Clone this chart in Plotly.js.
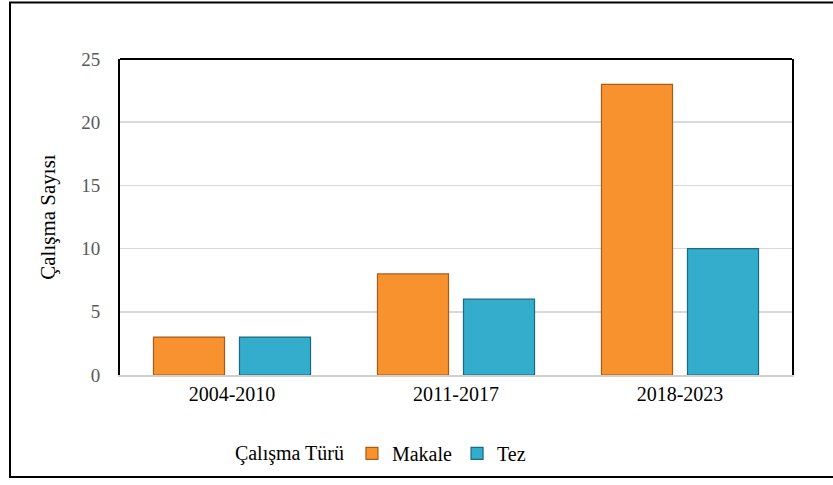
<!DOCTYPE html>
<html>
<head>
<meta charset="utf-8">
<script src="https://cdn.plot.ly/plotly-3.0.1.min.js"></script>
<style>
  html, body { margin: 0; padding: 0; background: #fff; }
  #chart { width: 833px; height: 485px; }
</style>
</head>
<body>
<div id="chart"></div>
<script>
const categories = ["2004-2010", "2011-2017", "2018-2023"];
const makale = [3, 8, 23];
const tez = [3, 6, 10];
const yTicks = [0, 5, 10, 15, 20, 25];

const font = "Liberation Serif";

const traces = [
  {
    type: "bar", name: "Makale", x: categories, y: makale,
    marker: { color: "#F7922F", line: { color: "#A85C18", width: 1.2 } },
    hoverinfo: "x+y"
  },
  {
    type: "bar", name: "Tez", x: categories, y: tez,
    marker: { color: "#33ADCB", line: { color: "#1A6A80", width: 1.2 } },
    hoverinfo: "x+y"
  }
];

const layout = {
  width: 833, height: 485,
  margin: { l: 120, r: 41, t: 59, b: 107 },
  paper_bgcolor: "#fff", plot_bgcolor: "#fff",
  barmode: "group", bargap: 0.232, bargroupgap: 0.174,
  font: { family: font, size: 20, color: "#000" },
  xaxis: {
    type: "category",
    tickfont: { family: font, size: 20, color: "#000" },
    showgrid: false, zeroline: false,
    showline: true, linecolor: "#D0D0D0", linewidth: 2,
    ticks: "", ticklen: 0
  },
  yaxis: {
    range: [0, 25], tickvals: yTicks, ticktext: yTicks.map(String),
    tickfont: { family: font, size: 19, color: "#595959" },
    showgrid: true, gridcolor: "#D9D9D9", gridwidth: 1.5,
    zeroline: false,
    showline: true, linecolor: "#000", linewidth: 2, mirror: true,
    ticks: "", ticklabelstandoff: 14,
    title: { text: "Çalışma Sayısı", font: { family: font, size: 21, color: "#000" }, standoff: 20 }
  },
  legend: {
    orientation: "h", x: 0.168, xanchor: "left", y: -0.248, yanchor: "middle",
    font: { family: font, size: 20, color: "#000" },
    title: { text: "Çalışma Türü", font: { family: font, size: 20, color: "#000" } },
    itemwidth: 30, traceorder: "normal", bgcolor: "rgba(0,0,0,0)"
  },
  shapes: [
    { type: "line", xref: "paper", yref: "paper", x0: 0, x1: 1, y0: 1, y1: 1,
      line: { color: "#000", width: 2 } },
    { type: "rect", xref: "paper", yref: "paper",
      x0: (10 - 120) / 672, x1: (840 - 120) / 672,
      y0: (378 - 481) / 319, y1: (378 - 2) / 319,
      line: { color: "#000", width: 2 }, fillcolor: "rgba(0,0,0,0)" }
  ],
  showlegend: true
};

Plotly.newPlot("chart", traces, layout, { displayModeBar: false, staticPlot: true });
</script>
</body>
</html>
